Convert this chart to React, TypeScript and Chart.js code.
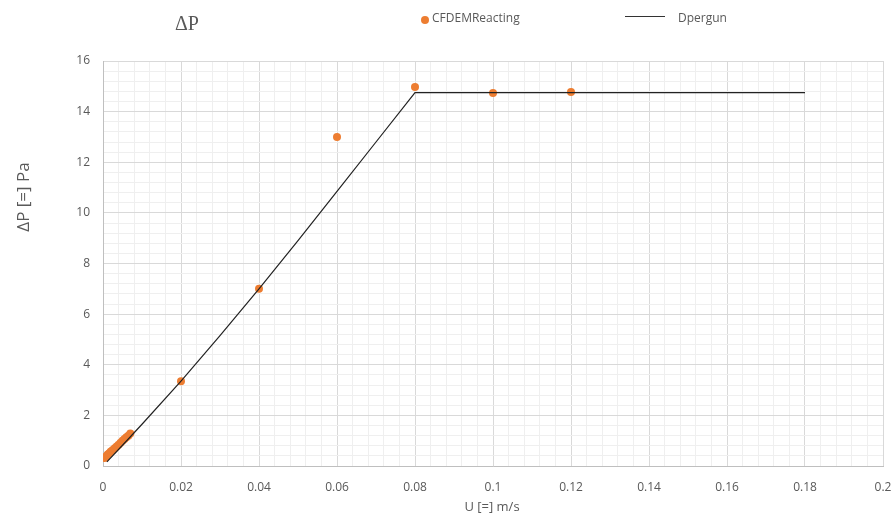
import React, { useEffect, useRef } from "react";
import { Chart, registerables } from "chart.js";

Chart.register(...registerables);

const cfdU = [0.0004, 0.0008, 0.0012, 0.0016, 0.002, 0.0025, 0.003, 0.0035, 0.004, 0.0045, 0.005, 0.0055, 0.006, 0.0065, 0.007, 0.02, 0.04, 0.06, 0.08, 0.1, 0.12];
const cfdP = [0.32, 0.38, 0.45, 0.5, 0.57, 0.63, 0.7, 0.77, 0.84, 0.92, 1.0, 1.07, 1.14, 1.2, 1.28, 3.35, 7.0, 13.0, 14.97, 14.74, 14.78];

const ergunU = [0.001, 0.005, 0.01, 0.02, 0.03, 0.04, 0.05, 0.06, 0.07, 0.08, 0.18];
const ergunP = [0.16, 0.82, 1.65, 3.35, 5.15, 7.0, 8.9, 10.85, 12.8, 14.75, 14.75];

const xTickMajor = [0, 0.02, 0.04, 0.06, 0.08, 0.1, 0.12, 0.14, 0.16, 0.18, 0.2];
const yTickMajor = [0, 2, 4, 6, 8, 10, 12, 14, 16];

const TEXT = "#595959";
const ORANGE = "#ED7D31";
const FONT = "'Open Sans', 'Noto Sans', sans-serif";

const isMajor = (v: number, step: number) => Math.abs(v / step - Math.round(v / step)) < 1e-6;

const overlay = {
  id: "overlay",
  afterDraw(chart: any) {
    const ctx = chart.ctx;
    ctx.save();
    ctx.fillStyle = TEXT;
    ctx.font = "20px 'Liberation Serif', 'DejaVu Serif', serif";
    ctx.textBaseline = "middle";
    ctx.textAlign = "left";
    ctx.fillText("ΔP", 175, 25);
    ctx.beginPath();
    ctx.fillStyle = ORANGE;
    ctx.arc(425, 20, 4, 0, Math.PI * 2);
    ctx.fill();
    ctx.fillStyle = TEXT;
    ctx.font = "12px " + FONT;
    ctx.fillText("CFDEMReacting", 432, 19);
    ctx.beginPath();
    ctx.strokeStyle = "#333333";
    ctx.lineWidth = 1;
    ctx.moveTo(625, 16.5);
    ctx.lineTo(665, 16.5);
    ctx.stroke();
    ctx.fillText("Dpergun", 678, 19);
    ctx.translate(24, 197);
    ctx.rotate(-Math.PI / 2);
    ctx.textAlign = "center";
    ctx.font = "17px " + FONT;
    ctx.fillText("ΔP [=] Pa", 0, 0);
    ctx.restore();
  },
};

export default function App() {
  const ref = useRef<HTMLCanvasElement | null>(null);
  useEffect(() => {
    document.body.style.margin = "0";
    const chart = new Chart(ref.current as HTMLCanvasElement, {
      type: "scatter",
      data: {
        datasets: [
          {
            label: "CFDEMReacting",
            data: cfdU.map((u, i) => ({ x: u, y: cfdP[i] })),
            backgroundColor: ORANGE,
            borderColor: ORANGE,
            pointRadius: 4,
            pointBorderWidth: 0,
            showLine: false,
            order: 1,
          },
          {
            label: "Dpergun",
            data: ergunU.map((u, i) => ({ x: u, y: ergunP[i] })),
            borderColor: "#222222",
            backgroundColor: "#222222",
            borderWidth: 1.2,
            pointRadius: 0,
            showLine: true,
            order: 0,
          },
        ],
      },
      options: {
        animation: false,
        responsive: false,
        maintainAspectRatio: false,
        layout: { padding: { top: 61, right: 13, left: 0, bottom: 0 } },
        plugins: {
          legend: { display: false },
          title: { display: false },
          tooltip: { enabled: false },
        },
        scales: {
          x: {
            type: "linear",
            min: 0,
            max: 0.2,
            afterFit(scale: any) {
              scale.height = 54;
              scale.paddingRight = 0;
              scale.paddingLeft = 0;
            },
            afterBuildTicks(scale: any) {
              const t: any[] = [];
              for (let i = 0; i <= 50; i++) t.push({ value: Math.round(i * 0.004 * 1e6) / 1e6 });
              scale.ticks = t;
            },
            border: { color: "#bfbfbf" },
            grid: {
              color: (c: any) => (c.tick && isMajor(c.tick.value, 0.02) ? "#d9d9d9" : "#efefef"),
              drawTicks: false,
            },
            ticks: {
              autoSkip: false,
              maxRotation: 0,
              padding: 14,
              color: TEXT,
              font: { family: FONT, size: 12 },
              callback: (v: any) => {
                const n = Number(v);
                if (!isMajor(n, 0.02)) return "";
                const m = xTickMajor.find((t) => Math.abs(t - n) < 1e-9);
                return m === undefined ? "" : String(m);
              },
            },
          },
          y: {
            type: "linear",
            min: 0,
            max: 16,
            afterFit(scale: any) {
              scale.width = 103;
              scale.paddingTop = 0;
              scale.paddingBottom = 0;
            },
            afterBuildTicks(scale: any) {
              const t: any[] = [];
              for (let i = 0; i <= 40; i++) t.push({ value: Math.round(i * 0.4 * 1e6) / 1e6 });
              scale.ticks = t;
            },
            border: { color: "#bfbfbf" },
            grid: {
              color: (c: any) => (c.tick && isMajor(c.tick.value, 2) ? "#d9d9d9" : "#efefef"),
              drawTicks: false,
            },
            ticks: {
              autoSkip: false,
              padding: 13,
              color: TEXT,
              font: { family: FONT, size: 12 },
              callback: (v: any) => {
                const n = Number(v);
                if (!isMajor(n, 2)) return "";
                const m = yTickMajor.find((t) => Math.abs(t - n) < 1e-9);
                return m === undefined ? "" : String(m);
              },
            },
          },
        },
      },
      plugins: [
        overlay,
        {
          id: "xtitle",
          afterDraw(chart: any) {
            const ctx = chart.ctx;
            ctx.save();
            ctx.fillStyle = TEXT;
            ctx.font = "13px " + FONT;
            ctx.textAlign = "center";
            ctx.textBaseline = "middle";
            ctx.fillText("U [=] m/s", 492, 507);
            ctx.restore();
          },
        },
      ],
    } as any);
    return () => chart.destroy();
  }, []);
  return (
    <div style={{ position: "fixed", left: 0, top: 0, width: 896, height: 520, background: "#fff" }}>
      <canvas ref={ref} width={896} height={520} style={{ width: 896, height: 520 }} />
    </div>
  );
}
